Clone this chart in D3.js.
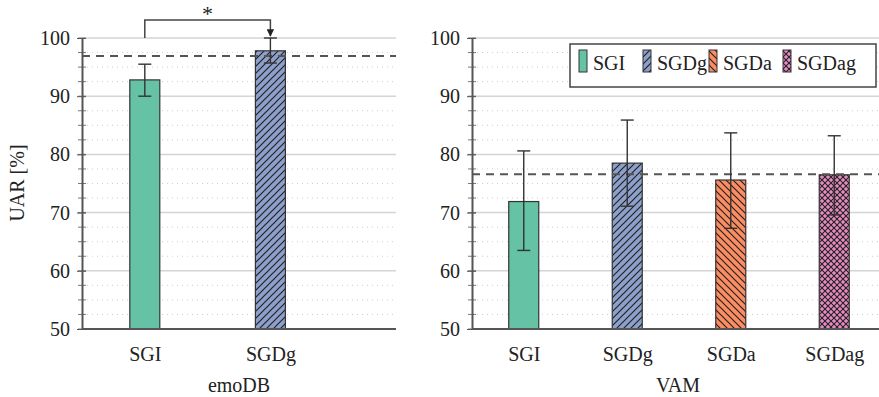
<!DOCTYPE html>
<html lang="en">
<head>
<meta charset="utf-8">
<title>UAR bars</title>
<script src="https://d3js.org/d3.v7.min.js"></script>
<style>
  body { margin: 0; background: #fff; }
  svg text { font-family: "Liberation Serif", "DejaVu Serif", serif; fill: #222; }
  .grid-major line { stroke: #d4d4d4; stroke-width: 1.5; }
  .grid-minor line { stroke: #cfcfcf; stroke-width: 1; stroke-dasharray: 1,4; }
  .axis path, .axis line { stroke: #555; }
</style>
</head>
<body>
<script>
// emoDB panel
var emoCats = ["SGI", "SGDg"];
var emoMean = [92.8, 97.8];
var emoLow  = [90.0, 95.7];
var emoHigh = [95.5, 100.0];
var emoRef = 96.9;

// VAM panel
var vamCats = ["SGI", "SGDg", "SGDa", "SGDag"];
var vamMean = [71.9, 78.5, 75.6, 76.5];
var vamLow  = [63.5, 71.1, 67.3, 69.6];
var vamHigh = [80.6, 85.9, 83.7, 83.2];
var vamRef = 76.6;

var yTicks = [50, 60, 70, 80, 90, 100];
var yMinor = d3.range(50, 100.1, 2.5);

var colors = {SGI: "#66c2a5", SGDg: "#8da0cb", SGDa: "#fc8d62", SGDag: "#e78ac3"};
var fills = {SGI: "#66c2a5", SGDg: "url(#hatchG)", SGDa: "url(#hatchA)", SGDag: "url(#hatchAG)"};

var w = 879, h = 397;
var plotTop = 38, plotBottom = 329;

var svg = d3.select("body").append("svg").attr("width", w).attr("height", h);

// patterns
var defs = svg.append("defs");
function hatch(id, color, dirs, size, sw) {
  var p = defs.append("pattern")
    .attr("id", id).attr("patternUnits", "userSpaceOnUse")
    .attr("width", size).attr("height", size);
  p.append("rect").attr("width", size).attr("height", size).attr("fill", color);
  dirs.forEach(function(dir) {
    var d = dir === "ne"
      ? "M0," + size + " L" + size + ",0 M" + (-size / 2) + "," + (size / 2) + " L" + (size / 2) + "," + (-size / 2) + " M" + (size / 2) + "," + (size * 1.5) + " L" + (size * 1.5) + "," + (size / 2)
      : "M0,0 L" + size + "," + size + " M" + (-size / 2) + "," + (size / 2) + " L" + (size / 2) + "," + (size * 1.5) + " M" + (size / 2) + "," + (-size / 2) + " L" + (size * 1.5) + "," + (size / 2);
    p.append("path").attr("d", d).attr("stroke", "#222").attr("stroke-width", sw);
  });
}
hatch("hatchG", colors.SGDg, ["ne"], 7, 1.2);
hatch("hatchA", colors.SGDa, ["nw"], 7, 1.2);
hatch("hatchAG", colors.SGDag, ["ne", "nw"], 6, 1.1);

defs.append("marker")
  .attr("id", "arrow").attr("viewBox", "0 0 10 10")
  .attr("refX", 9).attr("refY", 5)
  .attr("markerWidth", 5).attr("markerHeight", 5)
  .attr("orient", "auto")
  .append("path").attr("d", "M0,0 L10,5 L0,10 z").attr("fill", "#222");

var yScale = d3.scaleLinear().domain([50, 100]).range([plotBottom, plotTop]);

function panel(cats, mean, low, high, ref, x0, x1, xmax, label, labelX) {
  var xScale = d3.scaleLinear().domain([0.5, xmax]).range([x0, x1]);
  var g = svg.append("g");

  // minor grid
  g.append("g").attr("class", "grid-minor")
    .selectAll("line").data(yMinor.filter(function(v) { return v % 10 !== 0; }))
    .join("line")
    .attr("x1", x0).attr("x2", x1)
    .attr("y1", function(d) { return yScale(d); })
    .attr("y2", function(d) { return yScale(d); });

  // major grid
  g.append("g").attr("class", "grid-major")
    .selectAll("line").data(yTicks.slice(1))
    .join("line")
    .attr("x1", x0).attr("x2", x1)
    .attr("y1", function(d) { return yScale(d); })
    .attr("y2", function(d) { return yScale(d); });

  // minor ticks on y axis
  g.append("g").selectAll("line").data(yMinor)
    .join("line")
    .attr("x1", x0 - 4).attr("x2", x0 + 4)
    .attr("y1", function(d) { return yScale(d); })
    .attr("y2", function(d) { return yScale(d); })
    .attr("stroke", "#777").attr("stroke-width", 1);

  // bars
  var bw = 30;
  g.selectAll("rect.bar").data(cats).join("rect")
    .attr("class", "bar")
    .attr("x", function(d, i) { return xScale(i + 1) - bw / 2; })
    .attr("y", function(d, i) { return yScale(mean[i]); })
    .attr("width", bw)
    .attr("height", function(d, i) { return yScale(50) - yScale(mean[i]); })
    .attr("fill", function(d) { return fills[d]; })
    .attr("stroke", "#333").attr("stroke-width", 1.2);

  // dashed reference line
  g.append("line")
    .attr("x1", x0).attr("x2", x1)
    .attr("y1", yScale(ref)).attr("y2", yScale(ref))
    .attr("stroke", "#555").attr("stroke-width", 2)
    .attr("stroke-dasharray", "8,6");

  // error bars
  var eb = g.selectAll("g.err").data(cats).join("g").attr("class", "err")
    .attr("stroke", "#333").attr("stroke-width", 1.4);
  eb.append("line")
    .attr("x1", function(d, i) { return xScale(i + 1); })
    .attr("x2", function(d, i) { return xScale(i + 1); })
    .attr("y1", function(d, i) { return yScale(low[i]); })
    .attr("y2", function(d, i) { return yScale(high[i]); });
  [low, high].forEach(function(arr) {
    eb.append("line")
      .attr("x1", function(d, i) { return xScale(i + 1) - 6.5; })
      .attr("x2", function(d, i) { return xScale(i + 1) + 6.5; })
      .attr("y1", function(d, i) { return yScale(arr[i]); })
      .attr("y2", function(d, i) { return yScale(arr[i]); });
  });

  // axes
  var yAxis = d3.axisLeft(yScale).tickValues(yTicks).tickSizeInner(4).tickSizeOuter(0).tickPadding(8);
  var ya = g.append("g").attr("class", "axis")
    .attr("transform", "translate(" + x0 + ",0)").call(yAxis);
  ya.select(".domain").attr("stroke-width", 2);
  ya.selectAll(".tick line").attr("x2", 4).attr("x1", -5);
  ya.selectAll("text").style("font-size", "20px");

  var xAxis = d3.axisBottom(xScale).tickValues(d3.range(1, cats.length + 1))
    .tickFormat(function(d) { return cats[d - 1]; }).tickSize(0).tickPadding(18);
  var xa = g.append("g").attr("class", "axis")
    .attr("transform", "translate(0," + plotBottom + ")").call(xAxis);
  xa.select(".domain").attr("stroke-width", 2).attr("d", "M" + x0 + ",0H" + x1);
  xa.selectAll("text").style("font-size", "20px");

  g.append("text")
    .attr("x", labelX).attr("y", 392)
    .attr("text-anchor", "middle")
    .style("font-size", "20px")
    .text(label);

  return xScale;
}

var xEmo = panel(emoCats, emoMean, emoLow, emoHigh, emoRef, 82, 396, 3, "emoDB", 239);
var xVam = panel(vamCats, vamMean, vamLow, vamHigh, vamRef, 472, 886, 4.5, "VAM", 678);

// y label
svg.append("text")
  .attr("transform", "translate(24,183) rotate(-90)")
  .attr("text-anchor", "middle")
  .style("font-size", "20px")
  .text("UAR [%]");

// significance bracket
var yb = 20;
svg.append("path")
  .attr("d", "M" + xEmo(1) + "," + yScale(100) + " V" + yb + " H" + xEmo(2) + " V" + (yScale(100) - 2))
  .attr("fill", "none").attr("stroke", "#444").attr("stroke-width", 1.5)
  .attr("marker-end", "url(#arrow)");
svg.append("text")
  .attr("x", (xEmo(1) + xEmo(2)) / 2).attr("y", 21)
  .attr("text-anchor", "middle")
  .style("font-size", "22px")
  .text("*");

// legend
var lg = svg.append("g");
lg.append("rect")
  .attr("x", 570).attr("y", 44).attr("width", 306).attr("height", 43)
  .attr("fill", "#fff").attr("stroke", "#444").attr("stroke-width", 1.5);
var legX = [579, 643, 709, 783];
vamCats.forEach(function(c, i) {
  lg.append("rect")
    .attr("x", legX[i]).attr("y", 50).attr("width", 8).attr("height", 22)
    .attr("fill", fills[c]).attr("stroke", "#333").attr("stroke-width", 1);
  lg.append("text")
    .attr("x", legX[i] + 14).attr("y", 70)
    .style("font-size", "20px")
    .text(c);
});
</script>
</body>
</html>
